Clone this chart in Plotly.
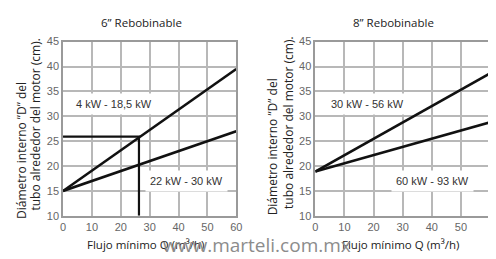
import plotly.graph_objects as go

# ---- data ----
x_pts = [0, 60]
left_hi = [15, 39.5]      # 4 kW - 18,5 kW
left_lo = [15, 27.0]      # 22 kW - 30 kW
right_hi = [18.9, 38.6]   # 30 kW - 56 kW
right_lo = [18.9, 28.8]   # 60 kW - 93 kW
guide_x = [0, 26.3, 26.3]
guide_y = [25.9, 25.9, 10]

x_ticks = [0, 10, 20, 30, 40, 50, 60]
y_ticks = [10, 15, 20, 25, 30, 35, 40, 45]

titles = ["6” Rebobinable", "8” Rebobinable"]
labels_left = ["4 kW - 18,5 kW", "22 kW - 30 kW"]
labels_right = ["30 kW - 56 kW", "60 kW - 93 kW"]
ytitle1 = "Diámetro interno ”D” del"
ytitle2 = "tubo alrededor del motor (cm)."
xtitle = "Flujo mínimo Q (m³/h)"
watermark = "www.marteli.com.mx"

# page body has an 8px margin: figure is drawn at (8, 8)
W, H, OFF = 488, 251, 8


def PX(p):
    return (p - OFF) / W


def PY(p):
    return (H - (p - OFF)) / H


line_style = dict(color="#111111", width=2.6)

fig = go.Figure()
fig.add_trace(go.Scatter(x=x_pts, y=left_hi, mode="lines", line=line_style, xaxis="x", yaxis="y", showlegend=False))
fig.add_trace(go.Scatter(x=x_pts, y=left_lo, mode="lines", line=line_style, xaxis="x", yaxis="y", showlegend=False))
fig.add_trace(go.Scatter(x=guide_x, y=guide_y, mode="lines", line=dict(color="#111111", width=2.2), xaxis="x", yaxis="y", showlegend=False))
fig.add_trace(go.Scatter(x=x_pts, y=right_hi, mode="lines", line=line_style, xaxis="x2", yaxis="y2", showlegend=False))
fig.add_trace(go.Scatter(x=x_pts, y=right_lo, mode="lines", line=line_style, xaxis="x2", yaxis="y2", showlegend=False))

tickfont = dict(family="Liberation Sans, Arial", size=11, color="#666666")
ax_common = dict(showgrid=True, gridcolor="#b8b8b8", gridwidth=1.5, zeroline=False,
                 showline=True, linecolor="#9a9a9a", linewidth=1.5, mirror=True,
                 tickfont=tickfont, ticks="", fixedrange=True)

ydom = [PY(220), PY(37)]
fig.update_layout(
    width=W, height=H,
    margin=dict(l=0, r=0, t=0, b=0),
    paper_bgcolor="white", plot_bgcolor="white",
    xaxis=dict(domain=[PX(61), PX(237.5)], range=[0, 60], tickvals=x_ticks, anchor="y", **ax_common),
    yaxis=dict(domain=ydom, range=[10, 45], tickvals=y_ticks, anchor="x", **ax_common),
    xaxis2=dict(domain=[PX(318), 1.0], range=[0, 60], tickvals=x_ticks, anchor="y2", **ax_common),
    yaxis2=dict(domain=ydom, range=[10, 45], tickvals=y_ticks, anchor="x2", **ax_common),
)

title_font = dict(family="Open Sans", size=11.5, color="#222222")
label_font = dict(family="Liberation Sans, Arial", size=11, color="#333333")
ann = []


def paper_ann(text, x, y, font, **kw):
    d = dict(text=text, x=PX(x), y=PY(y), xref="paper", yref="paper", showarrow=False,
             xanchor="center", yanchor="middle", font=font)
    d.update(kw)
    ann.append(d)


# panel titles
paper_ann(titles[0], 141, 17, title_font)
paper_ann(titles[1], 398, 17, title_font)
# line labels
for txt, x, y, xr, yr in [(labels_left[0], 17.7, 32.4, "x", "y"), (labels_left[1], 42.9, 17.1, "x", "y"),
                          (labels_right[0], 17.9, 32.4, "x2", "y2"), (labels_right[1], 40.2, 17.1, "x2", "y2")]:
    ann.append(dict(text=txt, x=x, y=y, xref=xr, yref=yr, showarrow=False, xanchor="center", yanchor="middle",
                    font=label_font, bgcolor="white", borderpad=4))
# y titles
yt_font = dict(family="Open Sans", size=12, color="#222222")
for xc1, b1, xc2, b2 in [(18, 225, 32, 217), (274, 222, 290, 215)]:
    paper_ann(ytitle1, xc1, b1, yt_font, yanchor="bottom", textangle=-90)
    paper_ann(ytitle2, xc2, b2, yt_font, yanchor="bottom", textangle=-90)
# x titles
xt_font = dict(family="Open Sans", size=11.5, color="#222222")
paper_ann(xtitle, 145, 250, xt_font)
paper_ann(xtitle, 405, 250, xt_font)
# watermark
paper_ann(watermark, 259, 251, dict(family="Open Sans", size=19, color="#8c8c8c"))
fig.update_layout(annotations=ann)

fig.write_html("out.html")
